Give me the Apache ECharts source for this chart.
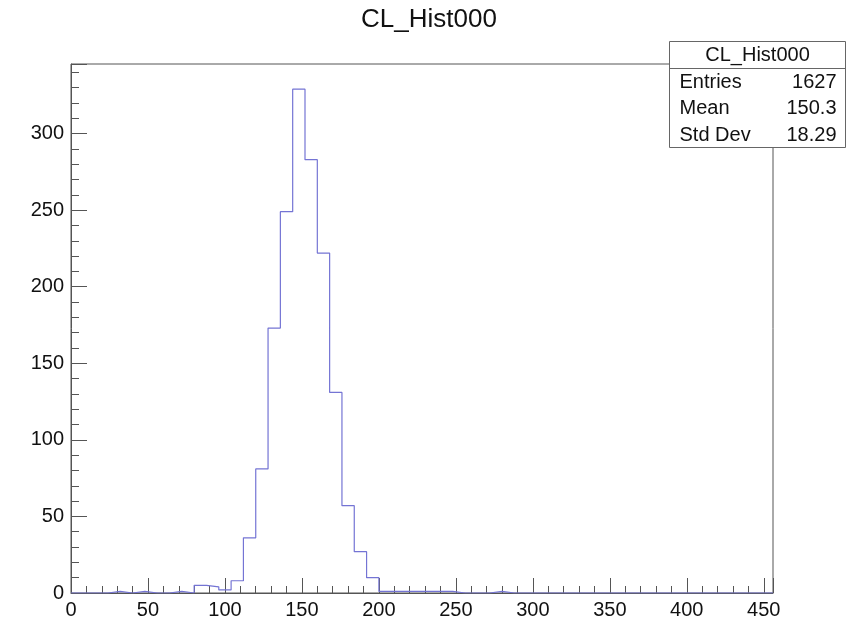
<!DOCTYPE html>
<html>
<head>
<meta charset="utf-8">
<title>CL_Hist000</title>
<script src="https://cdn.jsdelivr.net/npm/echarts@6/dist/echarts.min.js"></script>
<style>
  html, body { margin: 0; padding: 0; background: #fff; }
  #histChart { width: 858px; height: 620px; }
</style>
</head>
<body>
<div id="histChart"></div>
<script>
// 1. data
const histName = 'CL_Hist000';
const binWidth = 8;
const xMax = 456;
const yMax = 345.45;
// one count per bin, bin i covers [8*i, 8*i + 8)
const counts = [
  0, 0, 0, 1, 0, 1, 0, 0, 1, 0,
  5, 4, 2, 8, 36, 81, 173, 249, 329, 283,
  222, 131, 57, 27, 10, 1, 1, 1, 1, 1,
  1, 0, 0, 0, 1, 0, 0, 0, 0, 0,
  0, 0, 0, 0, 0, 0, 0, 0, 0, 0,
  0, 0, 0, 0, 0, 0, 0
];
const statLabels = ['Entries', 'Mean', 'Std Dev'];
const statValues = ['1627', '150.3', '18.29'];

(function () {
  const chartDom = document.getElementById('histChart');
  const myChart = echarts.init(chartDom);
  const FONT = '"Liberation Sans", Arial, Helvetica, sans-serif';

  // 2. step outline points at the left edge of each bin
  const stepData = counts.map((c, i) => [i * binWidth, c]);
  stepData.push([counts.length * binWidth, counts[counts.length - 1]]);

  const onlyFifty = v => (Math.abs(v % 50) < 1e-6 ? String(v) : '');

  // 3. stats box
  const boxW = 176, boxH = 106, rowY = [41, 67, 94];
  const statGraphics = [
    { type: 'rect', shape: { x: 0, y: 0, width: boxW, height: boxH },
      style: { fill: '#fff', stroke: '#666', lineWidth: 1 } },
    { type: 'line', shape: { x1: 0, y1: 27, x2: boxW, y2: 27 },
      style: { stroke: '#666', lineWidth: 1 } },
    { type: 'text', x: boxW / 2, y: 14,
      style: { text: histName, font: '20px ' + FONT, fill: '#111',
               align: 'center', verticalAlign: 'middle' } }
  ];
  statLabels.forEach((lab, i) => {
    statGraphics.push({ type: 'text', x: 10, y: rowY[i],
      style: { text: lab, font: '20px ' + FONT, fill: '#111', verticalAlign: 'middle' } });
    statGraphics.push({ type: 'text', x: boxW - 9, y: rowY[i],
      style: { text: statValues[i], font: '20px ' + FONT, fill: '#111',
               align: 'right', verticalAlign: 'middle' } });
  });

  // 4. chart
  const axisCol = '#555';
  myChart.setOption({
    animation: false,
    title: {
      text: histName, left: 'center', top: 2,
      textStyle: { fontFamily: FONT, fontSize: 26, fontWeight: 'normal', color: '#111' }
    },
    grid: { left: 71, right: 85, top: 64, bottom: 26, show: true,
            borderColor: axisCol, borderWidth: 1, backgroundColor: 'transparent' },
    xAxis: [
      { type: 'value', min: 0, max: xMax, interval: 50, position: 'bottom',
        splitLine: { show: false },
        axisLine: { show: true, onZero: false, lineStyle: { color: axisCol } },
        axisTick: { inside: true, length: 15, lineStyle: { color: axisCol } },
        axisLabel: { formatter: onlyFifty, margin: 7, fontSize: 20,
                     fontFamily: FONT, color: '#111' } },
      { type: 'value', min: 0, max: xMax, interval: 10, position: 'bottom',
        splitLine: { show: false },
        axisLine: { show: false },
        axisTick: { inside: true, length: 7, lineStyle: { color: axisCol } },
        axisLabel: { show: false } }
    ],
    yAxis: [
      { type: 'value', min: 0, max: yMax, interval: 50, position: 'left',
        splitLine: { show: false },
        axisLine: { show: true, onZero: false, lineStyle: { color: axisCol } },
        axisTick: { inside: true, length: 16, lineStyle: { color: axisCol } },
        axisLabel: { formatter: onlyFifty, margin: 7, fontSize: 20,
                     fontFamily: FONT, color: '#111' } },
      { type: 'value', min: 0, max: yMax, interval: 10, position: 'left',
        splitLine: { show: false },
        axisLine: { show: false },
        axisTick: { inside: true, length: 8, lineStyle: { color: axisCol } },
        axisLabel: { show: false } }
    ],
    series: [{
      type: 'line',
      step: 'end',
      data: stepData,
      xAxisIndex: 0,
      yAxisIndex: 0,
      showSymbol: false,
      symbol: 'none',
      lineStyle: { color: '#7474d4', width: 1.2 },
      z: 3
    }],
    graphic: [{ type: 'group', left: 667, top: 41, z: 100, children: statGraphics }]
  });
})();
</script>
</body>
</html>
